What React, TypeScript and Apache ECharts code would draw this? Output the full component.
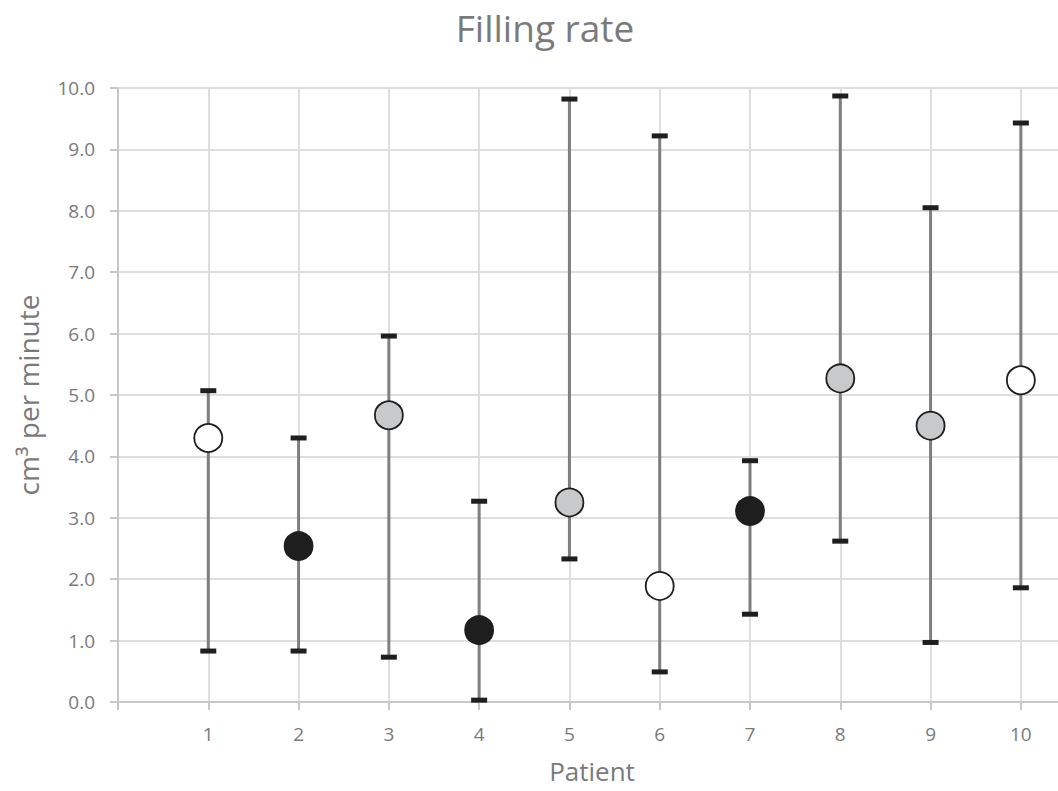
import React, { useEffect, useRef } from "react";
import * as echarts from "echarts";

const patients = [1, 2, 3, 4, 5, 6, 7, 8, 9, 10];
const means = [4.3, 2.54, 4.67, 1.17, 3.25, 1.89, 3.11, 5.27, 4.5, 5.24];
const upper = [5.07, 4.3, 5.96, 3.27, 9.82, 9.22, 3.93, 9.87, 8.05, 9.43];
const lower = [0.83, 0.83, 0.73, 0.03, 2.33, 0.49, 1.43, 2.62, 0.97, 1.86];
const groups = ["white", "black", "gray", "black", "gray", "white", "black", "gray", "gray", "white"];
const yTicks = [0, 1, 2, 3, 4, 5, 6, 7, 8, 9, 10];

const fills: Record<string, string> = { white: "#ffffff", black: "#1e1e1e", gray: "#c8c9cb" };

export default function App() {
  const ref = useRef<HTMLDivElement>(null);
  useEffect(() => {
    const chart = echarts.init(ref.current!, undefined, { renderer: "svg" });
    const errData = patients.map((p, i) => [p, lower[i], upper[i]]);
    const font = "'Open Sans', 'Noto Sans', sans-serif";
    chart.setOption({
      animation: false,
      title: {
        text: "Filling rate",
        left: 540,
        textAlign: "center",
        top: 4,
        textStyle: { fontFamily: font, fontSize: 37, fontWeight: "normal", color: "#7a7a7a" },
      },
      grid: { left: 118, top: 88, bottom: 89, right: 0, containLabel: false, outerBoundsMode: "none" },
      xAxis: {
        type: "value",
        min: 0,
        max: 10.5,
        interval: 1,
        name: "Patient",
        nameLocation: "middle",
        nameGap: 56,
        nameTextStyle: { fontFamily: font, fontSize: 26, lineHeight: 26, color: "#7a7a7a" },
        axisLine: { show: true, onZero: false, lineStyle: { color: "#c8c8c8", width: 2 } },
        axisTick: { show: true, length: 8, lineStyle: { color: "#c8c8c8", width: 2 } },
        axisLabel: {
          fontFamily: font,
          fontSize: 19,
          color: "#7a7a7a",
          margin: 22,
          formatter: (v: number) => (v >= 1 && v <= 10 && Number.isInteger(v) ? String(v) : ""),
        },
        splitLine: { show: true, lineStyle: { color: "#dedede", width: 2 } },
      },
      yAxis: {
        type: "value",
        min: 0,
        max: 10,
        interval: 1,
        name: "cm\u00b3 per minute",
        nameLocation: "middle",
        nameGap: 76,
        nameTextStyle: { fontFamily: font, fontSize: 28, color: "#7a7a7a" },
        axisLine: { show: true, lineStyle: { color: "#c8c8c8", width: 2 } },
        axisTick: { show: true, length: 8, lineStyle: { color: "#c8c8c8", width: 2 } },
        axisLabel: {
          fontFamily: font,
          fontSize: 19,
          color: "#7a7a7a",
          margin: 23,
          formatter: (v: number) => (yTicks.includes(v) ? v.toFixed(1) : ""),
        },
        splitLine: { show: true, lineStyle: { color: "#dedede", width: 2 } },
      },
      series: [
        {
          type: "custom",
          data: errData,
          encode: { x: 0, y: [1, 2] },
          z: 2,
          renderItem: (params: any, api: any) => {
            const x = api.value(0);
            const lo = api.coord([x, api.value(1)]);
            const hi = api.coord([x, api.value(2)]);
            const hw = 8;
            return {
              type: "group",
              children: [
                {
                  type: "line",
                  shape: { x1: lo[0], y1: lo[1], x2: hi[0], y2: hi[1] },
                  style: { stroke: "#7f7f7f", lineWidth: 3 },
                },
                {
                  type: "line",
                  shape: { x1: hi[0] - hw, y1: hi[1], x2: hi[0] + hw, y2: hi[1] },
                  style: { stroke: "#1e1e1e", lineWidth: 5 },
                },
                {
                  type: "line",
                  shape: { x1: lo[0] - hw, y1: lo[1], x2: lo[0] + hw, y2: lo[1] },
                  style: { stroke: "#1e1e1e", lineWidth: 5 },
                },
              ],
            };
          },
        },
        {
          type: "scatter",
          z: 3,
          symbol: "circle",
          symbolSize: 28,
          data: patients.map((p, i) => ({
            value: [p, means[i]],
            itemStyle: { color: fills[groups[i]], borderColor: "#1e1e1e", borderWidth: 1.8, opacity: 1 },
          })),
        },
      ],
    });
    return () => chart.dispose();
  }, []);
  return (
    <div style={{ position: "fixed", left: 0, top: 0, width: 1058, height: 791, overflow: "hidden", background: "#fff" }}>
      <div ref={ref} style={{ width: 1066, height: 791 }} />
    </div>
  );
}
